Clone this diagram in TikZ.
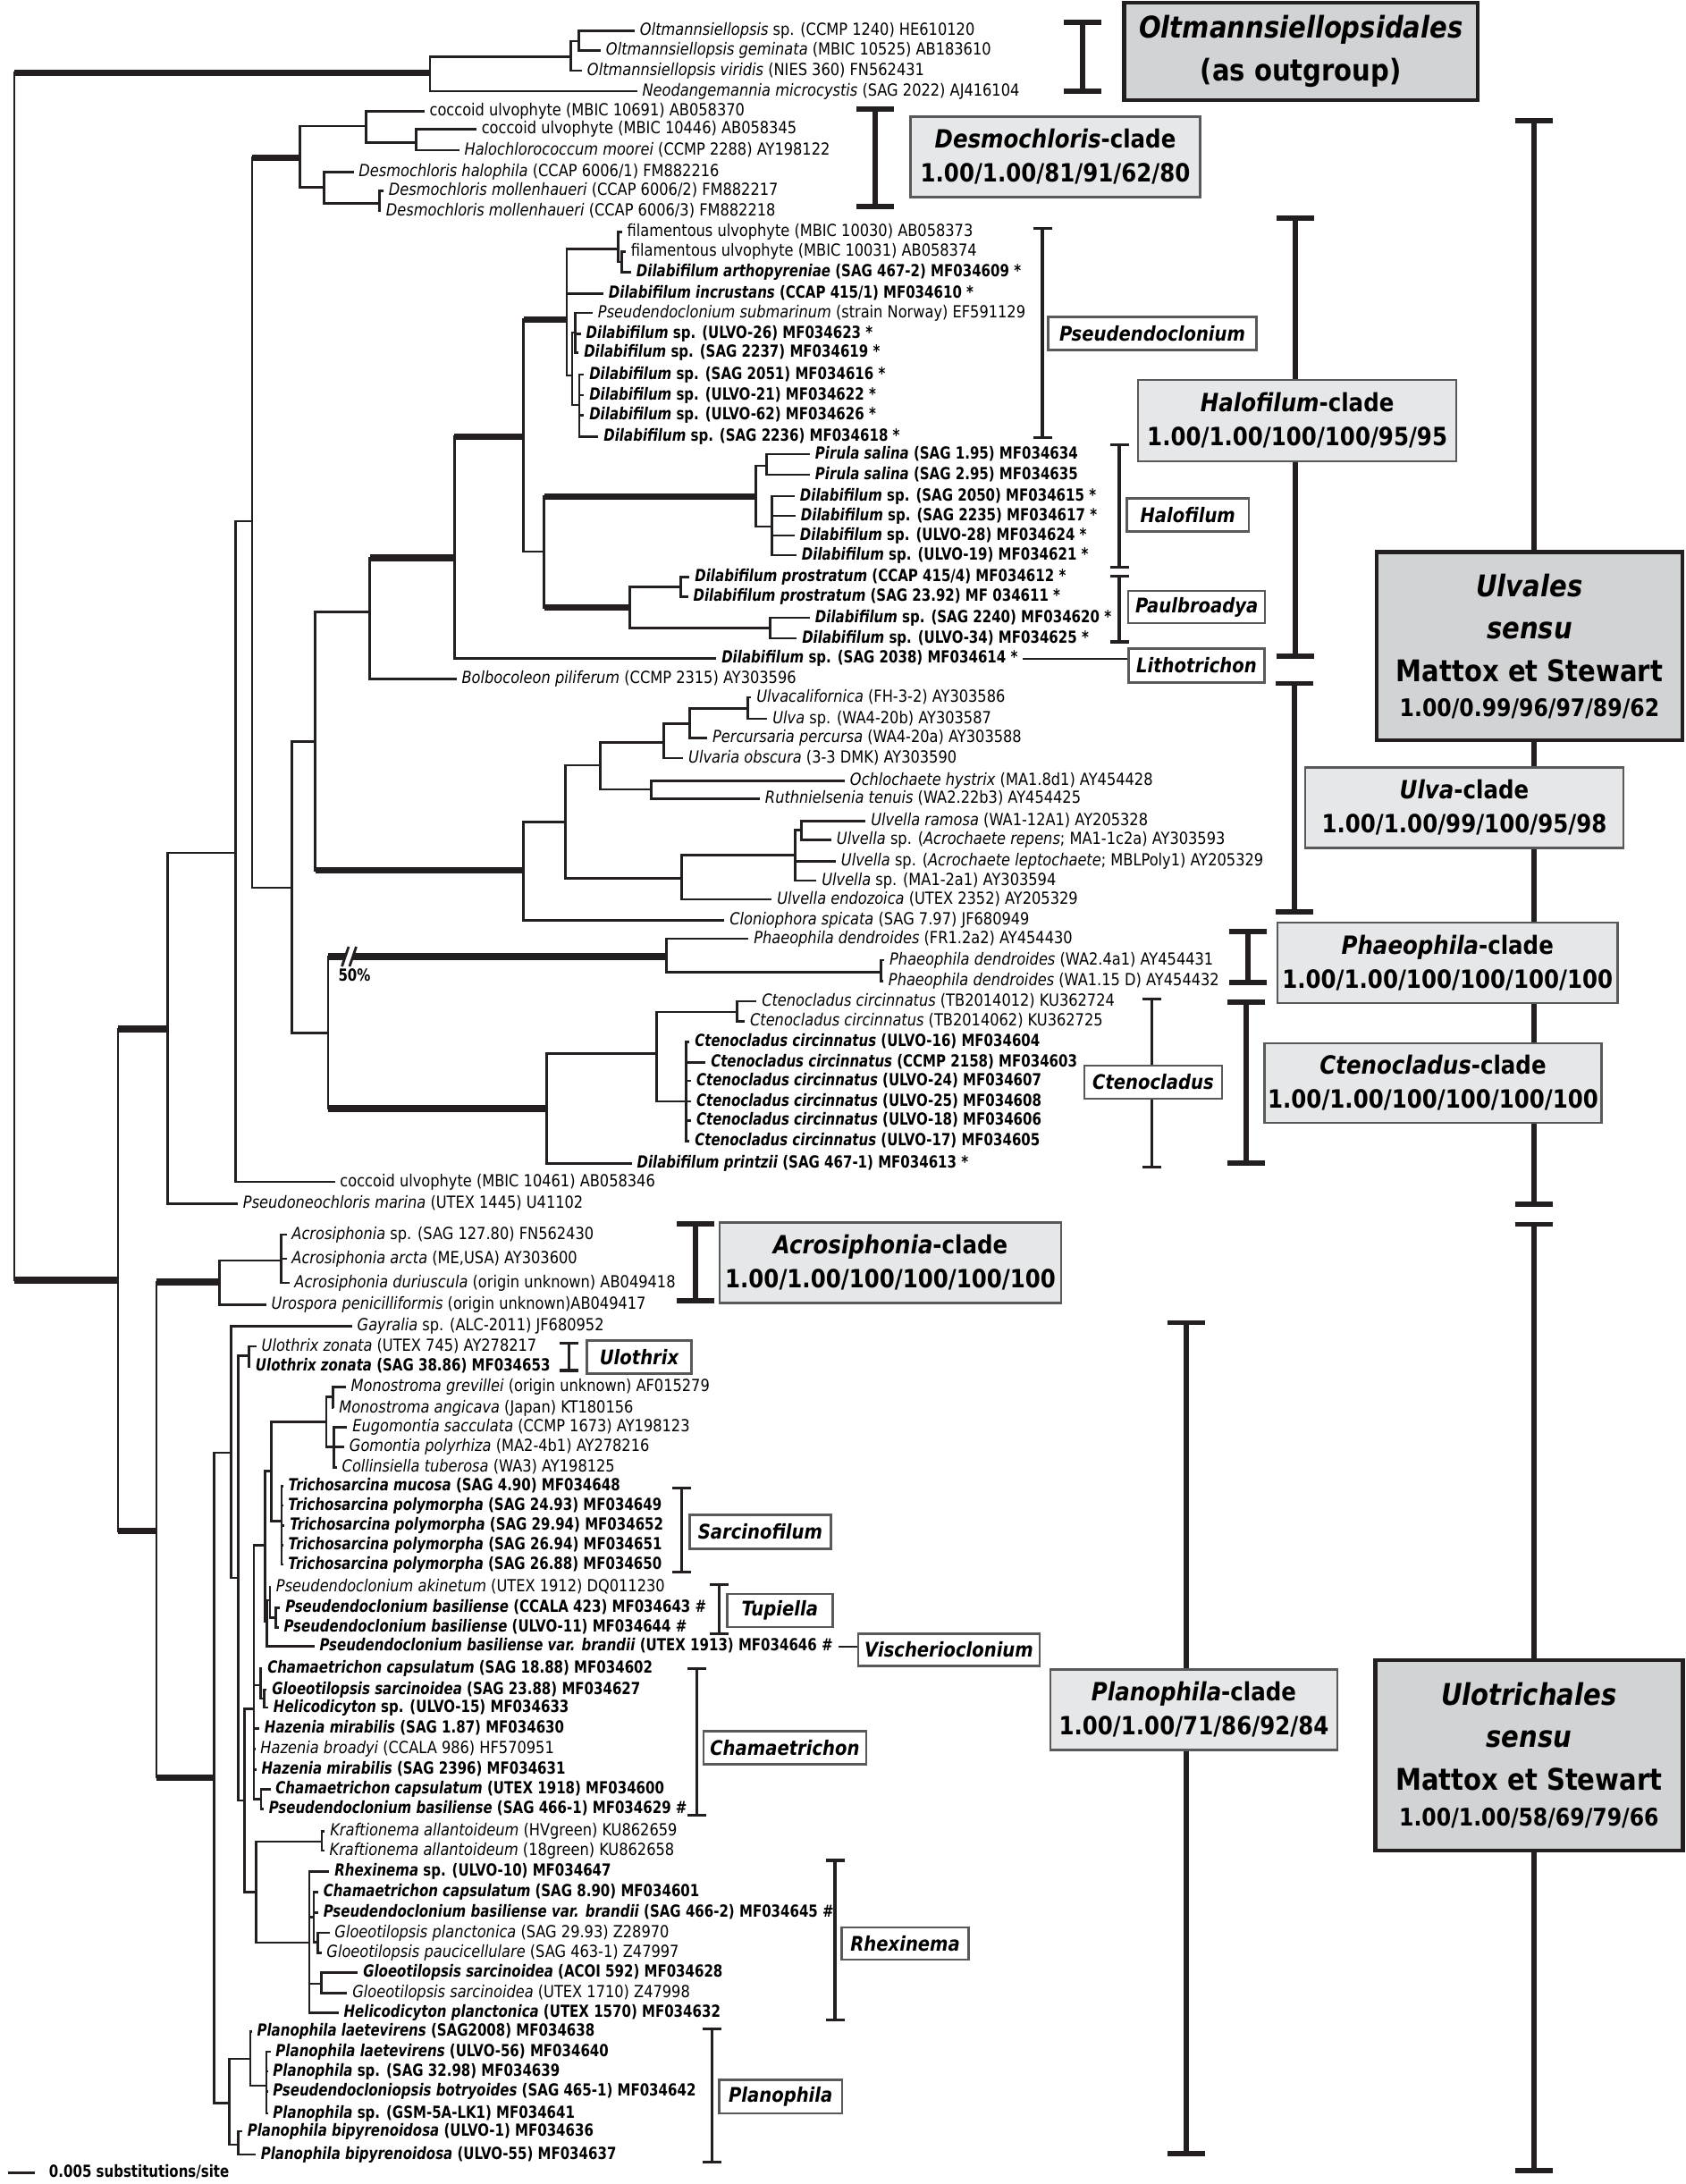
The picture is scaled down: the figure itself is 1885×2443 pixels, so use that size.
\documentclass[tikz,border=0pt]{standalone}
\usepackage{fontspec}
\setmainfont{DejaVu Sans}[FakeStretch=0.87]
\newfontfamily\leafboldfam{DejaVu Sans}[FakeStretch=0.805]
\usetikzlibrary{arrows.meta}
\definecolor{TreeLine}{HTML}{231F20}
\definecolor{BoxGray}{HTML}{D1D3D4}
\definecolor{CladeGray}{HTML}{E6E7E8}
\definecolor{BoxEdge}{HTML}{58595B}
\newcommand{\leaffont}{\fontsize{5.3}{6}\selectfont}

\begin{document}
\begin{tikzpicture}[x=0.01cm,y=-0.01cm,
  br/.style={draw=TreeLine,line width=0.75pt},
  thk/.style={draw=TreeLine,line width=2pt},
  lf/.style={anchor=west,inner xsep=1.5pt,inner ysep=0pt,text height=4pt,text depth=1.1pt,font=\leaffont},
  nlf/.style={lf,font=\leafboldfam\leaffont\bfseries},
  ibar/.style={draw=TreeLine,line width=1.7pt,arrows={Bar[width=4.2mm]-Bar[width=4.2mm]}},
  tbar/.style={draw=TreeLine,line width=0.9pt,arrows={Bar[width=2.1mm]-Bar[width=2.1mm]}},
  bigbox/.style={draw=TreeLine,line width=1.3pt,fill=BoxGray,inner sep=0pt,align=center,font=\fontsize{9.5}{13.5}\selectfont\bfseries},
  cladebox/.style={draw=BoxEdge,line width=0.7pt,fill=CladeGray,inner sep=0pt,align=center,font=\fontsize{8}{10.8}\selectfont\bfseries},
  genbox/.style={draw=BoxEdge,line width=0.7pt,fill=white,inner sep=0pt,font=\fontsize{6.4}{7}\selectfont\bfseries\itshape}]
\useasboundingbox (0,0) rectangle (1885,2443);

\coordinate (nR) at (16,757);
\coordinate (nOt) at (481,81.8);
\coordinate (nOa) at (638.5,63.3);
\coordinate (nOb) at (647.5,46);
\coordinate (nH) at (131.9,1432);
\coordinate (nG) at (187.6,1151);
\coordinate (nF) at (263.8,954);
\coordinate (nE) at (282,583);
\coordinate (nT) at (335.7,176.7);
\coordinate (nU) at (409.5,141);
\coordinate (nV) at (465.2,159.3);
\coordinate (nW) at (362.7,209.6);
\coordinate (nX) at (424.4,227.4);
\coordinate (nY) at (326.7,993);
\coordinate (nZ) at (352.5,829.6);
\coordinate (nHal) at (413.6,684.4);
\coordinate (nHb) at (508.4,624);
\coordinate (nHc) at (585.7,488.3);
\coordinate (nDil) at (634,357.3);
\coordinate (nfA) at (691.7,278.3);
\coordinate (nfB) at (695.5,293);
\coordinate (nPa0) at (640,420);
\coordinate (nPa1) at (643.5,372);
\coordinate (nPa2) at (648,453);
\coordinate (nHd) at (608.5,617);
\coordinate (nHf) at (845.3,555.5);
\coordinate (nPi) at (857.3,521);
\coordinate (nDh) at (863.3,589);
\coordinate (nPb0) at (704.4,679.3);
\coordinate (nPr) at (761.4,656.8);
\coordinate (nPc2) at (861.5,702.2);
\coordinate (nUc) at (585.7,973.9);
\coordinate (nUd) at (632.5,919.3);
\coordinate (nUe) at (671.4,856);
\coordinate (nUf) at (742.2,830.3);
\coordinate (nUh) at (771.6,809.8);
\coordinate (nUi) at (836.3,792.8);
\coordinate (nUg) at (728.4,883);
\coordinate (nUv) at (762.6,982.6);
\coordinate (nUj) at (889.3,956.7);
\coordinate (nUk) at (896.7,928.3);
\coordinate (nPa) at (366.9,1155.8);
\coordinate (nPb) at (745.2,1070);
\coordinate (nPw) at (985.2,1087.8);
\coordinate (nPc) at (611.5,1240);
\coordinate (nPd) at (734.4,1178.3);
\coordinate (nPe) at (824.3,1132);
\coordinate (nPf) at (767.4,1232);
\coordinate (nI) at (175,1712.5);
\coordinate (nJ) at (245.8,1434);
\coordinate (nK) at (314.7,1410);
\coordinate (nL) at (239.8,1988);
\coordinate (nM) at (258.3,1625);
\coordinate (nN) at (256.6,2352.6);
\coordinate (nS) at (266.5,1765);
\coordinate (nU0) at (278.3,1516.7);
\coordinate (nCh0) at (273.3,2014);
\coordinate (nY0) at (284,1911.7);
\coordinate (nY1) at (296.7,1728.3);
\coordinate (nY2) at (303.3,1645.8);
\coordinate (nMo) at (365,1590.8);
\coordinate (nMo1) at (372.3,1562.5);
\coordinate (nMo2) at (373.3,1618.3);
\coordinate (nTr) at (315,1701.7);
\coordinate (nY3) at (298.5,1813.3);
\coordinate (nPs1) at (302,1790);
\coordinate (nPs2) at (308.3,1809.5);
\coordinate (nCg) at (291.7,1885);
\coordinate (nCg2) at (295.5,1900);
\coordinate (nCU) at (292,2012.5);
\coordinate (nKr) at (286.7,2116.7);
\coordinate (nKn) at (360,2060);
\coordinate (nRx0) at (345.9,2173);
\coordinate (nRx1) at (351,2144.4);
\coordinate (nGp) at (355.5,2172.3);
\coordinate (nGs) at (359.7,2218.8);
\coordinate (nO) at (280,2303);
\coordinate (nQ) at (298,2333);
\coordinate (nP) at (266.8,2399);

\node[lf] (osp) at (710,34.8) {\textit{Oltmannsiellopsis} sp. (CCMP 1240) HE610120};
\node[lf] (ogem) at (672,56.5) {\textit{Oltmannsiellopsis geminata} (MBIC 10525) AB183610};
\node[lf] (ovir) at (651,79) {\textit{Oltmannsiellopsis viridis} (NIES 360) FN562431};
\node[lf] (neod) at (712.6,102) {\textit{Neodangemannia microcystis} (SAG 2022) AJ416104};
\node[lf] (cu1) at (474.6,124.5) {coccoid ulvophyte (MBIC 10691) AB058370};
\node[lf] (cu2) at (532.8,144.3) {coccoid ulvophyte (MBIC 10446) AB058345};
\node[lf] (halo) at (513.6,168) {\textit{Halochlorococcum moorei} (CCMP 2288) AY198122};
\node[lf] (dhal) at (395.5,192.6) {\textit{Desmochloris halophila} (CCAP 6006/1) FM882216};
\node[lf] (dmo2) at (429,213.5) {\textit{Desmochloris mollenhaueri} (CCAP 6006/2) FM882217};
\node[lf] (dmo3) at (426,236) {\textit{Desmochloris mollenhaueri} (CCAP 6006/3) FM882218};
\node[lf] (fil1) at (695.7,259.8) {filamentous ulvophyte (MBIC 10030) AB058373};
\node[lf] (fil2) at (700,281.5) {filamentous ulvophyte (MBIC 10031) AB058374};
\node[nlf] (dart) at (706,304.5) {\textit{Dilabifilum arthopyreniae} (SAG 467-2) MF034609 *};
\node[nlf] (dinc) at (675,328.2) {\textit{Dilabifilum incrustans} (CCAP 415/1) MF034610 *};
\node[lf] (psub) at (663,350) {\textit{Pseudendoclonium submarinum} (strain Norway) EF591129};
\node[nlf] (d26) at (649.7,373.6) {\textit{Dilabifilum} sp. (ULVO-26) MF034623 *};
\node[nlf] (d2237) at (647.3,394.2) {\textit{Dilabifilum} sp. (SAG 2237) MF034619 *};
\node[nlf] (d2051) at (653.3,419) {\textit{Dilabifilum} sp. (SAG 2051) MF034616 *};
\node[nlf] (d21) at (653.3,442) {\textit{Dilabifilum} sp. (ULVO-21) MF034622 *};
\node[nlf] (d62) at (653.3,464.6) {\textit{Dilabifilum} sp. (ULVO-62) MF034626 *};
\node[nlf] (d2236) at (669.4,488.3) {\textit{Dilabifilum} sp. (SAG 2236) MF034618 *};
\node[nlf] (pir1) at (906,508) {\textit{Pirula salina} (SAG 1.95) MF034634};
\node[nlf] (pir2) at (906,531) {\textit{Pirula salina} (SAG 2.95) MF034635};
\node[nlf] (d2050) at (889,555) {\textit{Dilabifilum} sp. (SAG 2050) MF034615 *};
\node[nlf] (d2235) at (890,577) {\textit{Dilabifilum} sp. (SAG 2235) MF034617 *};
\node[nlf] (d28) at (889,599) {\textit{Dilabifilum} sp. (ULVO-28) MF034624 *};
\node[nlf] (d19) at (891,621) {\textit{Dilabifilum} sp. (ULVO-19) MF034621 *};
\node[nlf] (pro1) at (771.4,645.7) {\textit{Dilabifilum prostratum} (CCAP 415/4) MF034612 *};
\node[nlf] (pro2) at (769.6,667.4) {\textit{Dilabifilum prostratum} (SAG 23.92) MF 034611 *};
\node[nlf] (d2240) at (906,691) {\textit{Dilabifilum} sp. (SAG 2240) MF034620 *};
\node[nlf] (d34) at (891.3,714) {\textit{Dilabifilum} sp. (ULVO-34) MF034625 *};
\node[nlf] (d2038) at (801.3,736.6) {\textit{Dilabifilum} sp. (SAG 2038) MF034614 *};
\node[lf] (bolb) at (510.6,759.2) {\textit{Bolbocoleon piliferum} (CCMP 2315) AY303596};
\node[lf] (ucal) at (840.3,780) {\textit{Ulvacalifornica} (FH-3-2) AY303586};
\node[lf] (usp) at (858.3,803.9) {\textit{Ulva} sp. (WA4-20b) AY303587};
\node[lf] (perc) at (791.1,825.6) {\textit{Percursaria percursa} (WA4-20a) AY303588};
\node[lf] (uobs) at (764.2,848) {\textit{Ulvaria obscura} (3-3 DMK) AY303590};
\node[lf] (ochl) at (945,873.3) {\textit{Ochlochaete hystrix} (MA1.8d1) AY454428};
\node[lf] (ruth) at (850,893.3) {\textit{Ruthnielsenia tenuis} (WA2.22b3) AY454425};
\node[lf] (uram) at (968.3,918.3) {\textit{Ulvella ramosa} (WA1-12A1) AY205328};
\node[lf] (urep) at (930,939.3) {\textit{Ulvella} sp. (\textit{Acrochaete repens}; MA1-1c2a) AY303593};
\node[lf] (ulep) at (935,963.3) {\textit{Ulvella} sp. (\textit{Acrochaete leptochaete}; MBLPoly1) AY205329};
\node[lf] (uma) at (913.3,985) {\textit{Ulvella} sp. (MA1-2a1) AY303594};
\node[lf] (uend) at (863.3,1006) {\textit{Ulvella endozoica} (UTEX 2352) AY205329};
\node[lf] (clon) at (810.3,1029.3) {\textit{Cloniophora spicata} (SAG 7.97) JF680949};
\node[lf] (ph1) at (837.3,1050) {\textit{Phaeophila dendroides} (FR1.2a2) AY454430};
\node[lf] (ph2) at (989.2,1074) {\textit{Phaeophila dendroides} (WA2.4a1) AY454431};
\node[lf] (ph3) at (988,1097.6) {\textit{Phaeophila dendroides} (WA1.15 D) AY454432};
\node[lf] (ct1) at (846.3,1120) {\textit{Ctenocladus circinnatus} (TB2014012) KU362724};
\node[lf] (ct2) at (833.1,1142.7) {\textit{Ctenocladus circinnatus} (TB2014062) KU362725};
\node[nlf] (ct16) at (771.4,1165.6) {\textit{Ctenocladus circinnatus} (ULVO-16) MF034604};
\node[nlf] (ct2158) at (789.3,1188.2) {\textit{Ctenocladus circinnatus} (CCMP 2158) MF034603};
\node[nlf] (ct24) at (773.1,1209) {\textit{Ctenocladus circinnatus} (ULVO-24) MF034607};
\node[nlf] (ct25) at (773.1,1232) {\textit{Ctenocladus circinnatus} (ULVO-25) MF034608};
\node[nlf] (ct18) at (773.1,1253.8) {\textit{Ctenocladus circinnatus} (ULVO-18) MF034606};
\node[nlf] (ct17) at (771.4,1276.4) {\textit{Ctenocladus circinnatus} (ULVO-17) MF034605};
\node[nlf] (dpri) at (706.6,1301.3) {\textit{Dilabifilum printzii} (SAG 467-1) MF034613 *};
\node[lf] (cu3) at (374.5,1322) {coccoid ulvophyte (MBIC 10461) AB058346};
\node[lf] (pseu) at (266,1346.8) {\textit{Pseudoneochloris marina} (UTEX 1445) U41102};
\node[lf] (acr1) at (320.5,1381) {\textit{Acrosiphonia} sp. (SAG 127.80) FN562430};
\node[lf] (acr2) at (320.5,1408) {\textit{Acrosiphonia arcta} (ME,USA) AY303600};
\node[lf] (acr3) at (323.5,1435) {\textit{Acrosiphonia duriuscula} (origin unknown) AB049418};
\node[lf] (uro) at (297.7,1459.5) {\textit{Urospora penicilliformis} (origin unknown)AB049417};
\node[lf] (gay) at (393.7,1483.3) {\textit{Gayralia} sp. (ALC-2011) JF680952};
\node[lf] (ulo1) at (286.7,1506) {\textit{Ulothrix zonata} (UTEX 745) AY278217};
\node[nlf] (ulo2) at (280,1528.3) {\textit{Ulothrix zonata} (SAG 38.86) MF034653};
\node[lf] (mon1) at (386.7,1551.7) {\textit{Monostroma grevillei} (origin unknown) AF015279};
\node[lf] (mon2) at (373.3,1575) {\textit{Monostroma angicava} (Japan) KT180156};
\node[lf] (eug) at (388.3,1596.7) {\textit{Eugomontia sacculata} (CCMP 1673) AY198123};
\node[lf] (gom) at (385,1618.3) {\textit{Gomontia polyrhiza} (MA2-4b1) AY278216};
\node[lf] (col) at (376.7,1641.7) {\textit{Collinsiella tuberosa} (WA3) AY198125};
\node[nlf] (tr1) at (316.7,1662.7) {\textit{Trichosarcina mucosa} (SAG 4.90) MF034648};
\node[nlf] (tr2) at (316.5,1684) {\textit{Trichosarcina polymorpha} (SAG 24.93) MF034649};
\node[nlf] (tr3) at (318.3,1706.7) {\textit{Trichosarcina polymorpha} (SAG 29.94) MF034652};
\node[nlf] (tr4) at (316.7,1728.3) {\textit{Trichosarcina polymorpha} (SAG 26.94) MF034651};
\node[nlf] (tr5) at (316.5,1750) {\textit{Trichosarcina polymorpha} (SAG 26.88) MF034650};
\node[lf] (pak) at (303,1775) {\textit{Pseudendoclonium akinetum} (UTEX 1912) DQ011230};
\node[nlf] (pb1) at (313.3,1798.3) {\textit{Pseudendoclonium basiliense} (CCALA 423) MF034643 \#};
\node[nlf] (pb2) at (311.7,1820.7) {\textit{Pseudendoclonium basiliense} (ULVO-11) MF034644 \#};
\node[nlf] (pbr) at (351.7,1841.7) {\textit{Pseudendoclonium basiliense var. brandii} (UTEX 1913) MF034646 \#};
\node[nlf] (ch1) at (293.3,1866.7) {\textit{Chamaetrichon capsulatum} (SAG 18.88) MF034602};
\node[nlf] (gl1) at (298.3,1890) {\textit{Gloeotilopsis sarcinoidea} (SAG 23.88) MF034627};
\node[nlf] (hel1) at (300,1910) {\textit{Helicodicyton} sp. (ULVO-15) MF034633};
\node[nlf] (haz1) at (290,1933.3) {\textit{Hazenia mirabilis} (SAG 1.87) MF034630};
\node[lf] (haz2) at (285.5,1956.7) {\textit{Hazenia broadyi} (CCALA 986) HF570951};
\node[nlf] (haz3) at (286.7,1979.3) {\textit{Hazenia mirabilis} (SAG 2396) MF034631};
\node[nlf] (ch2) at (302.5,2001.7) {\textit{Chamaetrichon capsulatum} (UTEX 1918) MF034600};
\node[nlf] (pb3) at (295,2023.3) {\textit{Pseudendoclonium basiliense} (SAG 466-1) MF034629 \#};
\node[lf] (kr1) at (363.3,2048.3) {\textit{Kraftionema allantoideum} (HVgreen) KU862659};
\node[lf] (kr2) at (362.7,2070) {\textit{Kraftionema allantoideum} (18green) KU862658};
\node[nlf] (rhx) at (368.3,2093.3) {\textit{Rhexinema} sp. (ULVO-10) MF034647};
\node[nlf] (ch3) at (356,2116.6) {\textit{Chamaetrichon capsulatum} (SAG 8.90) MF034601};
\node[nlf] (pb4) at (356,2139.6) {\textit{Pseudendoclonium basiliense var. brandii} (SAG 466-2) MF034645 \#};
\node[lf] (gpl) at (368.5,2161.9) {\textit{Gloeotilopsis planctonica} (SAG 29.93) Z28970};
\node[lf] (gpa) at (359.5,2184.6) {\textit{Gloeotilopsis paucicellulare} (SAG 463-1) Z47997};
\node[nlf] (gs1) at (400.3,2206.5) {\textit{Gloeotilopsis sarcinoidea} (ACOI 592) MF034628};
\node[lf] (gs2) at (388.3,2229.2) {\textit{Gloeotilopsis sarcinoidea} (UTEX 1710) Z47998};
\node[nlf] (hel2) at (378.7,2251.5) {\textit{Helicodicyton planctonica} (UTEX 1570) MF034632};
\node[nlf] (pl1) at (281.6,2272.7) {\textit{Planophila laetevirens} (SAG2008) MF034638};
\node[nlf] (pl2) at (302.5,2295) {\textit{Planophila laetevirens} (ULVO-56) MF034640};
\node[nlf] (pl3) at (299.5,2317) {\textit{Planophila} sp. (SAG 32.98) MF034639};
\node[nlf] (pbo) at (299.5,2339.6) {\textit{Pseudendocloniopsis botryoides} (SAG 465-1) MF034642};
\node[nlf] (pl4) at (299.5,2364) {\textit{Planophila} sp. (GSM-5A-LK1) MF034641};
\node[nlf] (bip1) at (270.8,2384) {\textit{Planophila bipyrenoidosa} (ULVO-1) MF034636};
\node[nlf] (bip2) at (285.8,2410) {\textit{Planophila bipyrenoidosa} (ULVO-55) MF034637};

\draw[br] (nR) |- (nOt) (nR) |- (nH);
\draw[br] (nOt) |- (nOa) (nOt) |- (neod);
\draw[br] (nOa) |- (nOb) (nOa) |- (ovir);
\draw[br] (nOb) |- (osp) (nOb) |- (ogem);
\draw[br] (nH) |- (nG) (nH) |- (nI);
\draw[br] (nG) |- (nF) (nG) |- (pseu);
\draw[br] (nF) |- (nE) (nF) |- (cu3);
\draw[br] (nE) |- (nT) (nE) |- (nY);
\draw[br] (nT) |- (nU) (nT) |- (nW);
\draw[br] (nU) |- (cu1) (nU) |- (nV);
\draw[br] (nV) |- (cu2) (nV) |- (halo);
\draw[br] (nW) |- (dhal) (nW) |- (nX);
\draw[br] (nX) |- (dmo2) (nX) |- (dmo3);
\draw[br] (nY) |- (nZ) (nY) |- (nPa);
\draw[br] (nZ) |- (nHal) (nZ) |- (nUc);
\draw[br] (nHal) |- (nHb) (nHal) |- (bolb);
\draw[br] (nHb) |- (nHc) (nHb) |- (d2038);
\draw[br] (nHc) |- (nDil) (nHc) |- (nHd);
\draw[br] (nDil) |- (nfA) (nDil) |- (dinc) (nDil) |- (nPa0);
\draw[br] (nfA) |- (fil1) (nfA) |- (nfB);
\draw[br] (nfB) |- (fil2) (nfB) |- (dart);
\draw[br] (nPa0) |- (nPa1) (nPa0) |- (nPa2);
\draw[br] (nPa1) |- (psub) (nPa1) |- (d26) (nPa1) |- (d2237);
\draw[br] (nPa2) |- (d2051) (nPa2) |- (d21) (nPa2) |- (d62) (nPa2) |- (d2236);
\draw[br] (nHd) |- (nHf) (nHd) |- (nPb0);
\draw[br] (nHf) |- (nPi) (nHf) |- (nDh);
\draw[br] (nPi) |- (pir1) (nPi) |- (pir2);
\draw[br] (nDh) |- (d2050) (nDh) |- (d2235) (nDh) |- (d28) (nDh) |- (d19);
\draw[br] (nPb0) |- (nPr) (nPb0) |- (nPc2);
\draw[br] (nPr) |- (pro1) (nPr) |- (pro2);
\draw[br] (nPc2) |- (d2240) (nPc2) |- (d34);
\draw[br] (nUc) |- (nUd) (nUc) |- (clon);
\draw[br] (nUd) |- (nUe) (nUd) |- (nUv);
\draw[br] (nUe) |- (nUf) (nUe) |- (nUg);
\draw[br] (nUf) |- (nUh) (nUf) |- (uobs);
\draw[br] (nUh) |- (nUi) (nUh) |- (perc);
\draw[br] (nUi) |- (ucal) (nUi) |- (usp);
\draw[br] (nUg) |- (ochl) (nUg) |- (ruth);
\draw[br] (nUv) |- (nUj) (nUv) |- (uend);
\draw[br] (nUj) |- (nUk) (nUj) |- (ulep) (nUj) |- (uma);
\draw[br] (nUk) |- (uram) (nUk) |- (urep);
\draw[br] (nPa) |- (nPb) (nPa) |- (nPc);
\draw[br] (nPb) |- (ph1) (nPb) |- (nPw);
\draw[br] (nPw) |- (ph2) (nPw) |- (ph3);
\draw[br] (nPc) |- (nPd) (nPc) |- (dpri);
\draw[br] (nPd) |- (nPe) (nPd) |- (nPf);
\draw[br] (nPe) |- (ct1) (nPe) |- (ct2);
\draw[br] (nPf) |- (ct16) (nPf) |- (ct2158) (nPf) |- (ct24) (nPf) |- (ct25) (nPf) |- (ct18) (nPf) |- (ct17);
\draw[br] (nI) |- (nJ) (nI) |- (nL);
\draw[br] (nJ) |- (nK) (nJ) |- (uro);
\draw[br] (nK) |- (acr1) (nK) |- (acr2) (nK) |- (acr3);
\draw[br] (nL) |- (nM) (nL) |- (nN);
\draw[br] (nM) |- (gay) (nM) |- (nS);
\draw[br] (nS) |- (nU0) (nS) |- (nCh0);
\draw[br] (nU0) |- (ulo1) (nU0) |- (ulo2);
\draw[br] (nCh0) |- (nY0) (nCh0) |- (nKr);
\draw[br] (nY0) |- (nY1) (nY0) |- (nCg) (nY0) |- (haz1) (nY0) |- (haz2) (nY0) |- (haz3) (nY0) |- (nCU);
\draw[br] (nY1) |- (nY2) (nY1) |- (nY3);
\draw[br] (nY2) |- (nMo) (nY2) |- (nTr);
\draw[br] (nMo) |- (nMo1) (nMo) |- (nMo2);
\draw[br] (nMo1) |- (mon1) (nMo1) |- (mon2);
\draw[br] (nMo2) |- (eug) (nMo2) |- (gom) (nMo2) |- (col);
\draw[br] (nTr) |- (tr1) (nTr) |- (tr2) (nTr) |- (tr3) (nTr) |- (tr4) (nTr) |- (tr5);
\draw[br] (nY3) |- (nPs1) (nY3) |- (pbr);
\draw[br] (nPs1) |- (pak) (nPs1) |- (nPs2);
\draw[br] (nPs2) |- (pb1) (nPs2) |- (pb2);
\draw[br] (nCg) |- (ch1) (nCg) |- (nCg2);
\draw[br] (nCg2) |- (gl1) (nCg2) |- (hel1);
\draw[br] (nCU) |- (ch2) (nCU) |- (pb3);
\draw[br] (nKr) |- (nKn) (nKr) |- (nRx0);
\draw[br] (nKn) |- (kr1) (nKn) |- (kr2);
\draw[br] (nRx0) |- (rhx) (nRx0) |- (nRx1) (nRx0) |- (nGs) (nRx0) |- (hel2);
\draw[br] (nRx1) |- (ch3) (nRx1) |- (pb4) (nRx1) |- (nGp);
\draw[br] (nGp) |- (gpl) (nGp) |- (gpa);
\draw[br] (nGs) |- (gs1) (nGs) |- (gs2);
\draw[br] (nN) |- (nO) (nN) |- (nP);
\draw[br] (nO) |- (pl1) (nO) |- (nQ);
\draw[br] (nQ) |- (pl2) (nQ) |- (pl3) (nQ) |- (pbo) (nQ) |- (pl4);
\draw[br] (nP) |- (bip1) (nP) |- (bip2);

\draw[thk] (nR |- nOt) -- (nOt) (nR |- nH) -- (nH) (nH |- nG) -- (nG) (nH |- nI) -- (nI)
  (nI |- nJ) -- (nJ) (nI |- nL) -- (nL) (nE |- nT) -- (nT) (nZ |- nUc) -- (nUc)
  (nHal |- nHb) -- (nHb) (nHb |- nHc) -- (nHc) (nHc |- nDil) -- (nDil)
  (nHd |- nHf) -- (nHf) (nHd |- nPb0) -- (nPb0) (nPa |- nPb) -- (nPb) (nPa |- nPc) -- (nPc);

\fill[white] (383.5,1078) -- (389.5,1061) -- (397.5,1061) -- (391.5,1078) -- cycle;
\draw[TreeLine,line width=0.8pt] (382.5,1081) -- (390,1059) (391,1081) -- (398.5,1059);
\node[nlf,anchor=center] (brk) at (396.5,1092.5) {50\%};

\draw[TreeLine,line width=1pt] (9,2430.7) -- (39,2430.7);
\node[nlf] (scl) at (49,2430.7) {0.005 substitutions/site};

\draw[ibar] (1211,22.5) -- (1211,104.8);
\draw[ibar] (979,118.6) -- (979,234);
\draw[tbar] (1166,254.2) -- (1166,491.5);
\draw[ibar] (1449,241.2) -- (1449,737.4);
\draw[tbar] (1252,496.2) -- (1252,635.8);
\draw[tbar] (1252,642.5) -- (1252,719.6);
\draw[ibar] (1715.7,132.5) -- (1715.7,1349.5);
\draw[ibar] (1448,761.5) -- (1448,1023.3);
\draw[ibar] (1396,1039.1) -- (1396,1101.6);
\draw[tbar] (1288.4,1116.2) -- (1288.4,1307.2);
\draw[ibar] (1394.4,1118.2) -- (1394.4,1304.4);
\draw[ibar] (1715.7,1366.5) -- (1715.7,2430.7);
\draw[ibar] (777.6,1365.7) -- (777.6,1457.5);
\draw[tbar] (636.7,1501) -- (636.7,1534.6);
\draw[ibar] (1327,1476.5) -- (1327,2412);
\draw[tbar] (762.6,1663) -- (762.6,1760);
\draw[tbar] (804.5,1771) -- (804.5,1829);
\draw[tbar] (779.4,1864.5) -- (779.4,2031.8);
\draw[tbar] (934,2079.4) -- (934,2260.8);
\draw[tbar] (796.2,2267.9) -- (796.2,2420.3);

\node[bigbox,minimum width=3.95cm,minimum height=1.09cm] (oltm) at (1455.3,57.6) {\textit{Oltmannsiellopsidales}\\(as outgroup)};
\node[cladebox,minimum width=3.24cm,minimum height=0.9cm] (desm) at (1180.5,175.4) {\textit{Desmochloris}-clade\\1.00/1.00/81/91/62/80};
\node[genbox,minimum width=2.33cm,minimum height=0.37cm] (pseud) at (1289,373) {Pseudendoclonium};
\node[cladebox,minimum width=3.56cm,minimum height=0.91cm] (halc) at (1451.1,470.5) {\textit{Halofilum}-clade\\1.00/1.00/100/100/95/95};
\node[genbox,minimum width=1.36cm,minimum height=0.37cm] (halg) at (1328.7,575.9) {Halofilum};
\node[bigbox,minimum width=3.42cm,minimum height=2.1cm] (ulvales) at (1710.9,722.8) {\textit{Ulvales}\\\textit{sensu}\\Mattox et Stewart\\[-2.3pt]{\fontsize{7.7}{9}\selectfont 1.00/0.99/96/97/89/62}};
\node[genbox,minimum width=1.53cm,minimum height=0.36cm] (paul) at (1338.7,678.9) {Paulbroadya};
\node[genbox,minimum width=1.52cm,minimum height=0.38cm] (litho) at (1338.4,744.4) {Lithotrichon};
\node[cladebox,minimum width=3.56cm,minimum height=0.9cm] (ulvac) at (1637.9,903.3) {\textit{Ulva}-clade\\1.00/1.00/99/100/95/98};
\node[cladebox,minimum width=3.8cm,minimum height=0.9cm] (phaeo) at (1619.2,1077.1) {\textit{Phaeophila}-clade\\1.00/1.00/100/100/100/100};
\node[genbox,minimum width=1.54cm,minimum height=0.37cm] (cteng) at (1289.9,1210.5) {Ctenocladus};
\node[cladebox,minimum width=3.77cm,minimum height=0.89cm] (ctenc) at (1603,1211.3) {\textit{Ctenocladus}-clade\\1.00/1.00/100/100/100/100};
\node[cladebox,minimum width=3.82cm,minimum height=0.9cm] (acro) at (996,1412.4) {\textit{Acrosiphonia}-clade\\1.00/1.00/100/100/100/100};
\node[genbox,minimum width=1.17cm,minimum height=0.37cm] (uloth) at (715,1518.2) {Ulothrix};
\node[genbox,minimum width=1.58cm,minimum height=0.38cm] (sarc) at (850.4,1713.5) {Sarcinofilum};
\node[genbox,minimum width=1.18cm,minimum height=0.37cm] (tupi) at (872.3,1801.7) {Tupiella};
\node[genbox,minimum width=2.03cm,minimum height=0.36cm] (visch) at (1061.5,1845.5) {Vischerioclonium};
\node[cladebox,minimum width=3.21cm,minimum height=0.9cm] (planc) at (1335.4,1912.4) {\textit{Planophila}-clade\\1.00/1.00/71/86/92/84};
\node[genbox,minimum width=1.82cm,minimum height=0.37cm] (chamg) at (877.9,1954.8) {Chamaetrichon};
\node[genbox,minimum width=1.42cm,minimum height=0.36cm] (rhexg) at (1012.6,2173.8) {Rhexinema};
\node[genbox,minimum width=1.37cm,minimum height=0.37cm] (plang) at (873.2,2345.2) {Planophila};
\node[bigbox,minimum width=3.44cm,minimum height=2.13cm] (ulotr) at (1710.3,1963.4) {\textit{Ulotrichales}\\\textit{sensu}\\Mattox et Stewart\\[-2pt]{\fontsize{7.7}{9}\selectfont 1.00/1.00/58/69/79/66}};

\draw[br,line width=0.6pt] (d2038.east) -- (d2038.east -| litho.west);
\draw[br,line width=0.6pt] (pbr.east) -- (pbr.east -| visch.west);
\end{tikzpicture}
\end{document}
